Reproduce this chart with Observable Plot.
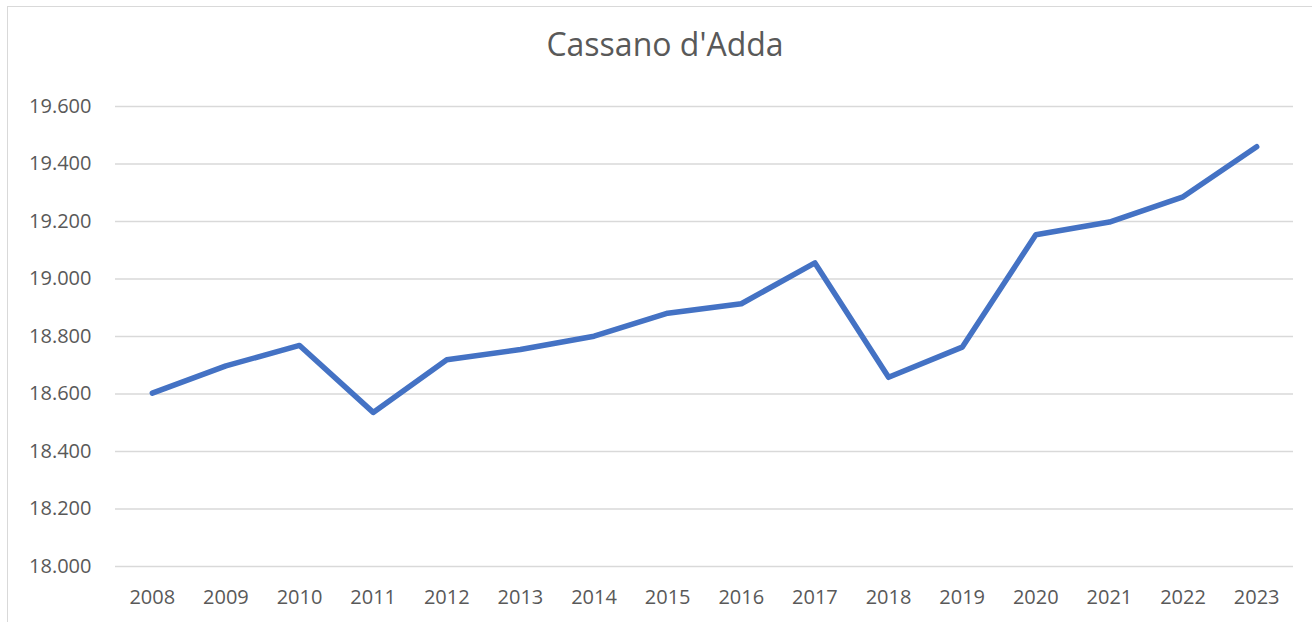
<!DOCTYPE html>
<html>
<head>
<meta charset="utf-8">
<script src="https://cdn.jsdelivr.net/npm/d3@7"></script>
<script src="https://cdn.jsdelivr.net/npm/@observablehq/plot@0.6"></script>
<style>
  html, body { margin: 0; padding: 0; background: #ffffff; }
  #wrap { position: relative; width: 1312px; height: 622px; overflow: hidden; background: #ffffff; }
  #frame { position: absolute; left: 7px; top: 6px; width: 1314px; height: 640px; border: 1.5px solid #d9d9d9; box-sizing: border-box; }
  #title { position: absolute; left: 8px; width: 1314px; top: 28px; text-align: center;
           font-family: "Open Sans", sans-serif; font-size: 32px; color: #595959; line-height: 1; }
  #chart { position: absolute; left: 0; top: 0; }
</style>
</head>
<body>
<div id="wrap">
  <div id="frame"></div>
  <div id="chart"></div>
  <div id="title">Cassano d'Adda</div>
</div>
<script>
const years = [2008, 2009, 2010, 2011, 2012, 2013, 2014, 2015, 2016, 2017, 2018, 2019, 2020, 2021, 2022, 2023];
const population = [18603, 18698, 18769, 18536, 18719, 18755, 18801, 18881, 18914, 19056, 18658, 18763, 19154, 19198, 19286, 19460];
const yTicks = [18000, 18200, 18400, 18600, 18800, 19000, 19200, 19400, 19600];

const data = years.map((y, i) => ({year: y, value: population[i]}));
const itFormat = d3.formatLocale({decimal: ",", thousands: ".", grouping: [3], currency: ["", " €"]}).format(",");

const chart = Plot.plot({
  width: 1312,
  height: 622,
  marginLeft: 115,
  marginRight: 19,
  marginTop: 106,
  marginBottom: 56,
  style: {fontFamily: "'Open Sans', sans-serif", fontSize: "20px", color: "#595959", background: "transparent"},
  x: {type: "point", domain: years, padding: 0.5, round: false, label: null},
  y: {domain: [18000, 19600], label: null},
  marks: [
    Plot.ruleY(yTicks, {stroke: "#d9d9d9", strokeWidth: 1.3}),
    Plot.axisY(yTicks, {tickSize: 0, tickPadding: 24, tickFormat: itFormat, label: null, fill: "#595959"}),
    Plot.axisX(years, {tickSize: 0, tickPadding: 23, tickFormat: d => String(d), label: null, fill: "#595959"}),
    Plot.line(data, {x: "year", y: "value", stroke: "#4472C4", strokeWidth: 5.5, strokeLinecap: "round", strokeLinejoin: "round"})
  ]
});
document.getElementById("chart").appendChild(chart);
</script>
</body>
</html>
